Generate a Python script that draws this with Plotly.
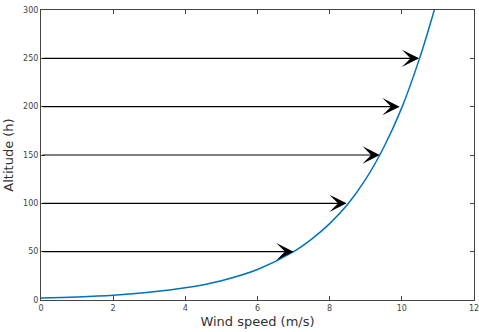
import plotly.graph_objects as go

# Curve: wind speed (m/s) vs altitude (h)
speed = [0, 1, 2, 3, 4, 5, 6, 7, 7.5, 8, 8.5, 9, 9.5, 10, 10.5, 10.9]
altitude = [2, 3.2, 5, 8, 12.6, 20, 31.5, 50, 63, 79, 99, 125, 158, 199, 251, 300]

# Arrows: altitude level and wind speed at arrow tip
arrow_alt = [50, 100, 150, 200, 250]
arrow_speed = [7.0, 8.47, 9.39, 9.94, 10.48]

x_ticks = [0, 2, 4, 6, 8, 10, 12]
y_ticks = [0, 50, 100, 150, 200, 250, 300]

fig = go.Figure()
fig.add_trace(go.Scatter(x=speed, y=altitude, mode="lines",
                         line=dict(color="#0072BD", width=1.5, shape="spline"),
                         showlegend=False))

for a, s in zip(arrow_alt, arrow_speed):
    fig.add_annotation(x=s, y=a, ax=0, ay=a, xref="x", yref="y", axref="x", ayref="y",
                       showarrow=True, arrowhead=3, arrowsize=2.4, arrowwidth=1.2,
                       arrowcolor="black", text="")

axis_common = dict(showline=True, linecolor="#444", linewidth=1, mirror="ticks",
                   ticks="inside", ticklen=4, tickcolor="#444", showgrid=False,
                   zeroline=False, ticklabeloverflow="allow", automargin=False,
                   tickfont=dict(size=8, color="#444", family="DejaVu Sans"))

fig.update_xaxes(range=[0, 12], tickvals=x_ticks,
                 title=dict(text="Wind speed (m/s)", font=dict(size=13, color="#333", family="DejaVu Sans"), standoff=5),
                 **axis_common)
fig.update_yaxes(range=[0, 300], tickvals=y_ticks,
                 title=dict(text="Altitude (h)", font=dict(size=13, color="#333", family="DejaVu Sans"), standoff=6),
                 **axis_common)

fig.update_layout(width=479, height=332, margin=dict(l=41, r=5, t=10, b=32),
                  plot_bgcolor="white", paper_bgcolor="white")

fig.write_html("out.html")
